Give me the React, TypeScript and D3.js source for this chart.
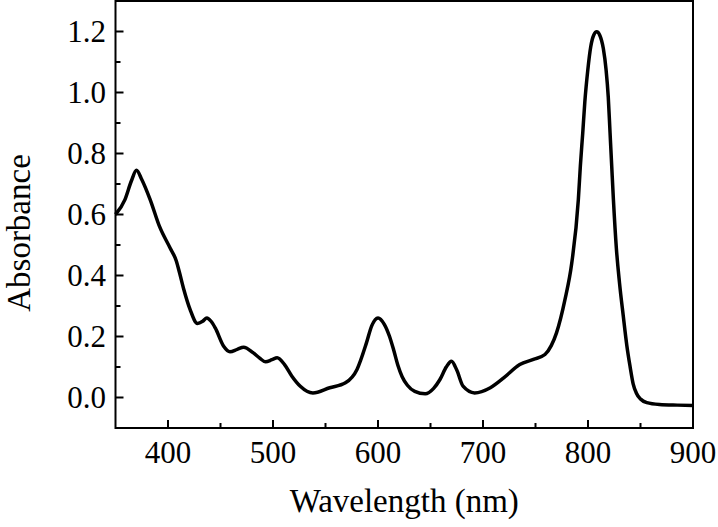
import React, { useEffect, useRef } from "react";
import * as d3 from "d3";

const wavelengths = [
  350, 359, 365, 370, 375, 383, 392, 402, 408, 411, 415, 421, 428, 433, 437, 441, 445, 453, 459, 466, 472,
  481, 487, 493, 499, 504, 511, 518, 526, 538, 554, 569, 580, 589, 594, 600, 606, 611, 615, 619, 623, 628,
  635, 645, 653, 659, 665, 670, 675, 681, 692, 707, 720, 735, 748, 759, 765, 770, 778, 784.5, 790.8, 792.7,
  795, 797, 799.7, 802.6, 805.4, 808.3, 811.2, 814.6, 817.2, 819.3, 821, 822.6, 824.2, 827, 830, 833.6, 837,
  840, 843, 846, 850, 856, 868, 885, 900,
];
const absorbance = [
  0.6, 0.649, 0.709, 0.745, 0.715, 0.649, 0.56, 0.49, 0.447, 0.409, 0.355, 0.289, 0.243, 0.25, 0.261, 0.25,
  0.228, 0.168, 0.15, 0.158, 0.165, 0.147, 0.13, 0.117, 0.124, 0.13, 0.108, 0.07, 0.037, 0.015, 0.032, 0.048,
  0.092, 0.179, 0.235, 0.261, 0.24, 0.2, 0.155, 0.105, 0.068, 0.04, 0.02, 0.012, 0.03, 0.059, 0.1, 0.119,
  0.09, 0.037, 0.015, 0.032, 0.065, 0.108, 0.125, 0.141, 0.17, 0.212, 0.32, 0.44, 0.649, 0.758, 0.868, 0.97,
  1.07, 1.15, 1.188, 1.199, 1.188, 1.144, 1.075, 0.985, 0.868, 0.758, 0.649, 0.49, 0.376, 0.267, 0.17,
  0.103, 0.045, 0.015, -0.005, -0.017, -0.023, -0.025, -0.026,
];
const xTickLabels = [400, 500, 600, 700, 800, 900];
const xMinorTicks = [450, 550, 650, 750, 850];
const yTickLabels = [0.0, 0.2, 0.4, 0.6, 0.8, 1.0, 1.2];
const yMinorTicks = [0.1, 0.3, 0.5, 0.7, 0.9, 1.1];

export default function App() {
  const ref = useRef<SVGSVGElement>(null);
  useEffect(() => {
    document.body.style.margin = "0";
    const svg = d3.select(ref.current);
    svg.selectAll("*").remove();
    const left = 115.5, right = 693, top = 1, bottom = 428;
    const x = d3.scaleLinear().domain([350, 900]).range([left, right]);
    const y = d3.scaleLinear().domain([-0.1, 1.3]).range([bottom, top]);
    const font = "'Liberation Serif', 'Times New Roman', serif";

    const data = wavelengths.map((w, i) => [w, absorbance[i]] as [number, number]);
    const line = d3
      .line<[number, number]>()
      .x((d) => x(d[0]))
      .y((d) => y(d[1]))
      .curve(d3.curveMonotoneX);

    svg
      .append("path")
      .attr("d", line(data))
      .attr("fill", "none")
      .attr("stroke", "#000")
      .attr("stroke-width", 3.5)
      .attr("stroke-linejoin", "round");

    svg
      .append("rect")
      .attr("x", left)
      .attr("y", top)
      .attr("width", right - left)
      .attr("height", bottom - top)
      .attr("fill", "none")
      .attr("stroke", "#000")
      .attr("stroke-width", 2);

    const g = svg.append("g").attr("stroke", "#000").attr("stroke-width", 2);
    xTickLabels.forEach((v) => {
      g.append("line").attr("x1", x(v)).attr("x2", x(v)).attr("y1", bottom).attr("y2", bottom - 8);
    });
    xMinorTicks.forEach((v) => {
      g.append("line").attr("x1", x(v)).attr("x2", x(v)).attr("y1", bottom).attr("y2", bottom - 5);
    });
    yTickLabels.forEach((v) => {
      g.append("line").attr("x1", left).attr("x2", left + 8).attr("y1", y(v)).attr("y2", y(v));
    });
    yMinorTicks.forEach((v) => {
      g.append("line").attr("x1", left).attr("x2", left + 5).attr("y1", y(v)).attr("y2", y(v));
    });

    xTickLabels.forEach((v) => {
      svg
        .append("text")
        .attr("x", x(v))
        .attr("y", 463)
        .attr("text-anchor", "middle")
        .attr("font-family", font)
        .attr("font-size", 31)
        .text(String(v));
    });
    yTickLabels.forEach((v) => {
      svg
        .append("text")
        .attr("x", 106)
        .attr("y", y(v) + 10)
        .attr("text-anchor", "end")
        .attr("font-family", font)
        .attr("font-size", 31)
        .text(d3.format(".1f")(v));
    });

    svg
      .append("text")
      .attr("x", (left + right) / 2)
      .attr("y", 512)
      .attr("text-anchor", "middle")
      .attr("font-family", font)
      .attr("font-size", 33)
      .text("Wavelength (nm)");
    svg
      .append("text")
      .attr("transform", "translate(30,233) rotate(-90)")
      .attr("text-anchor", "middle")
      .attr("font-family", font)
      .attr("font-size", 33)
      .text("Absorbance");
  }, []);
  return (
    <svg
      ref={ref}
      width={718}
      height={527}
      style={{ position: "absolute", left: 0, top: 0, background: "#fff" }}
    />
  );
}
